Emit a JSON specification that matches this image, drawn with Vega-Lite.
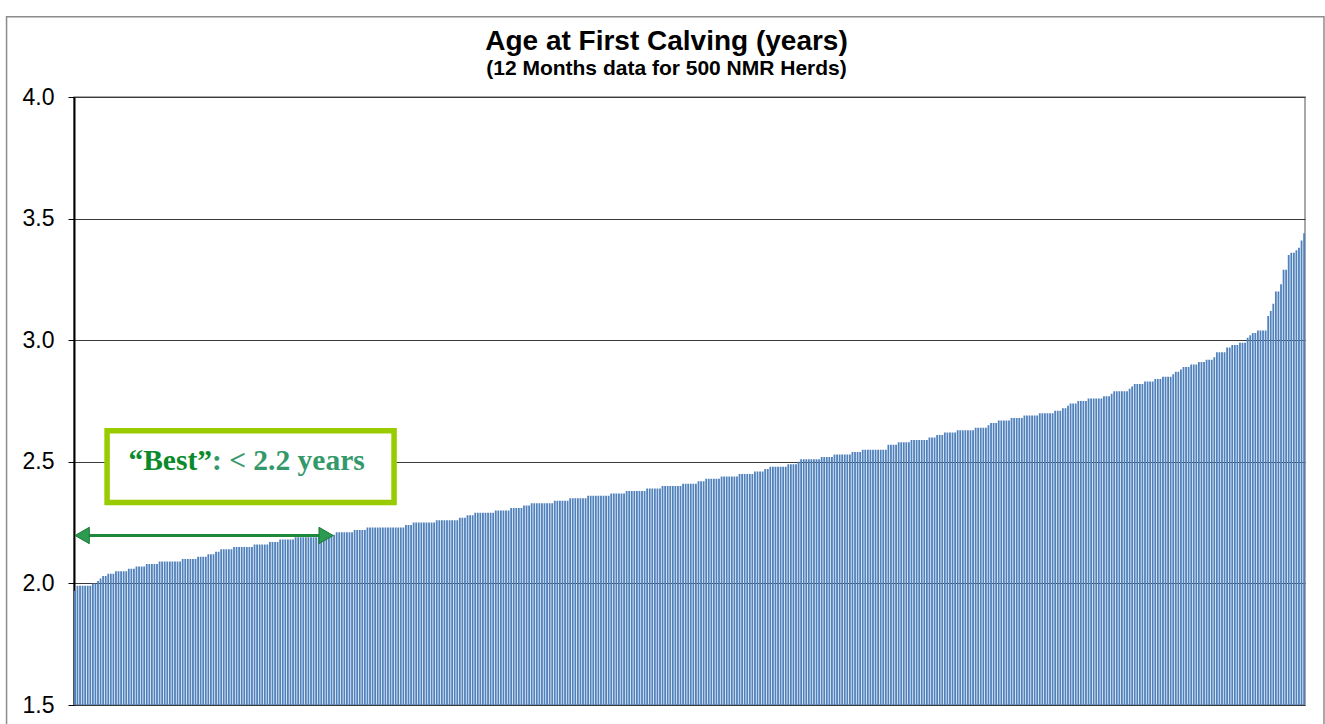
{
"$schema": "https://vega.github.io/schema/vega-lite/v6.json",
"width": 1231, "height": 608,
"autosize": {"type": "none"},
"padding": {"left": 74, "top": 97, "right": 20, "bottom": 19},
"background": "white",
"config": {"view": {"stroke": "#8c8c8c", "strokeWidth": 1.5}, "font": "Liberation Sans"},
"title": {"text": "Age at First Calving (years)", "subtitle": "(12 Months data for 500 NMR Herds)", "anchor": "middle", "dx": -23, "offset": -63, "font": "Liberation Sans", "fontSize": 28, "fontWeight": "bold", "color": "black", "subtitleFont": "Liberation Sans", "subtitleFontSize": 21, "subtitleFontWeight": "bold", "subtitleColor": "black", "subtitlePadding": 2},
"layer": [
{
"data": {"values": [
{"herd":1,"age":1.97},{"herd":2,"age":1.99},{"herd":3,"age":1.99},{"herd":4,"age":1.99},{"herd":5,"age":1.99},{"herd":6,"age":1.99},{"herd":7,"age":1.99},{"herd":8,"age":2.00},{"herd":9,"age":2.00},{"herd":10,"age":2.01},
{"herd":11,"age":2.02},{"herd":12,"age":2.03},{"herd":13,"age":2.03},{"herd":14,"age":2.04},{"herd":15,"age":2.04},{"herd":16,"age":2.04},{"herd":17,"age":2.05},{"herd":18,"age":2.05},{"herd":19,"age":2.05},{"herd":20,"age":2.05},
{"herd":21,"age":2.05},{"herd":22,"age":2.06},{"herd":23,"age":2.06},{"herd":24,"age":2.06},{"herd":25,"age":2.07},{"herd":26,"age":2.07},{"herd":27,"age":2.07},{"herd":28,"age":2.07},{"herd":29,"age":2.08},{"herd":30,"age":2.08},
{"herd":31,"age":2.08},{"herd":32,"age":2.08},{"herd":33,"age":2.08},{"herd":34,"age":2.09},{"herd":35,"age":2.09},{"herd":36,"age":2.09},{"herd":37,"age":2.09},{"herd":38,"age":2.09},{"herd":39,"age":2.09},{"herd":40,"age":2.09},
{"herd":41,"age":2.09},{"herd":42,"age":2.09},{"herd":43,"age":2.10},{"herd":44,"age":2.10},{"herd":45,"age":2.10},{"herd":46,"age":2.10},{"herd":47,"age":2.10},{"herd":48,"age":2.10},{"herd":49,"age":2.11},{"herd":50,"age":2.11},
{"herd":51,"age":2.11},{"herd":52,"age":2.11},{"herd":53,"age":2.12},{"herd":54,"age":2.12},{"herd":55,"age":2.12},{"herd":56,"age":2.13},{"herd":57,"age":2.13},{"herd":58,"age":2.14},{"herd":59,"age":2.14},{"herd":60,"age":2.14},
{"herd":61,"age":2.14},{"herd":62,"age":2.14},{"herd":63,"age":2.15},{"herd":64,"age":2.15},{"herd":65,"age":2.15},{"herd":66,"age":2.15},{"herd":67,"age":2.15},{"herd":68,"age":2.15},{"herd":69,"age":2.15},{"herd":70,"age":2.15},
{"herd":71,"age":2.16},{"herd":72,"age":2.16},{"herd":73,"age":2.16},{"herd":74,"age":2.16},{"herd":75,"age":2.16},{"herd":76,"age":2.16},{"herd":77,"age":2.17},{"herd":78,"age":2.17},{"herd":79,"age":2.17},{"herd":80,"age":2.17},
{"herd":81,"age":2.18},{"herd":82,"age":2.18},{"herd":83,"age":2.18},{"herd":84,"age":2.18},{"herd":85,"age":2.18},{"herd":86,"age":2.18},{"herd":87,"age":2.19},{"herd":88,"age":2.19},{"herd":89,"age":2.19},{"herd":90,"age":2.19},
{"herd":91,"age":2.19},{"herd":92,"age":2.19},{"herd":93,"age":2.19},{"herd":94,"age":2.19},{"herd":95,"age":2.19},{"herd":96,"age":2.19},{"herd":97,"age":2.19},{"herd":98,"age":2.20},{"herd":99,"age":2.20},{"herd":100,"age":2.20},
{"herd":101,"age":2.20},{"herd":102,"age":2.20},{"herd":103,"age":2.21},{"herd":104,"age":2.21},{"herd":105,"age":2.21},{"herd":106,"age":2.21},{"herd":107,"age":2.21},{"herd":108,"age":2.21},{"herd":109,"age":2.21},{"herd":110,"age":2.22},
{"herd":111,"age":2.22},{"herd":112,"age":2.22},{"herd":113,"age":2.22},{"herd":114,"age":2.22},{"herd":115,"age":2.23},{"herd":116,"age":2.23},{"herd":117,"age":2.23},{"herd":118,"age":2.23},{"herd":119,"age":2.23},{"herd":120,"age":2.23},
{"herd":121,"age":2.23},{"herd":122,"age":2.23},{"herd":123,"age":2.23},{"herd":124,"age":2.23},{"herd":125,"age":2.23},{"herd":126,"age":2.23},{"herd":127,"age":2.23},{"herd":128,"age":2.23},{"herd":129,"age":2.23},{"herd":130,"age":2.24},
{"herd":131,"age":2.24},{"herd":132,"age":2.24},{"herd":133,"age":2.25},{"herd":134,"age":2.25},{"herd":135,"age":2.25},{"herd":136,"age":2.25},{"herd":137,"age":2.25},{"herd":138,"age":2.25},{"herd":139,"age":2.25},{"herd":140,"age":2.25},
{"herd":141,"age":2.25},{"herd":142,"age":2.26},{"herd":143,"age":2.26},{"herd":144,"age":2.26},{"herd":145,"age":2.26},{"herd":146,"age":2.26},{"herd":147,"age":2.26},{"herd":148,"age":2.26},{"herd":149,"age":2.26},{"herd":150,"age":2.26},
{"herd":151,"age":2.27},{"herd":152,"age":2.27},{"herd":153,"age":2.27},{"herd":154,"age":2.28},{"herd":155,"age":2.28},{"herd":156,"age":2.28},{"herd":157,"age":2.29},{"herd":158,"age":2.29},{"herd":159,"age":2.29},{"herd":160,"age":2.29},
{"herd":161,"age":2.29},{"herd":162,"age":2.29},{"herd":163,"age":2.29},{"herd":164,"age":2.29},{"herd":165,"age":2.30},{"herd":166,"age":2.30},{"herd":167,"age":2.30},{"herd":168,"age":2.30},{"herd":169,"age":2.30},{"herd":170,"age":2.30},
{"herd":171,"age":2.31},{"herd":172,"age":2.31},{"herd":173,"age":2.31},{"herd":174,"age":2.31},{"herd":175,"age":2.31},{"herd":176,"age":2.32},{"herd":177,"age":2.32},{"herd":178,"age":2.32},{"herd":179,"age":2.33},{"herd":180,"age":2.33},
{"herd":181,"age":2.33},{"herd":182,"age":2.33},{"herd":183,"age":2.33},{"herd":184,"age":2.33},{"herd":185,"age":2.33},{"herd":186,"age":2.33},{"herd":187,"age":2.33},{"herd":188,"age":2.34},{"herd":189,"age":2.34},{"herd":190,"age":2.34},
{"herd":191,"age":2.34},{"herd":192,"age":2.34},{"herd":193,"age":2.34},{"herd":194,"age":2.35},{"herd":195,"age":2.35},{"herd":196,"age":2.35},{"herd":197,"age":2.35},{"herd":198,"age":2.35},{"herd":199,"age":2.35},{"herd":200,"age":2.35},
{"herd":201,"age":2.36},{"herd":202,"age":2.36},{"herd":203,"age":2.36},{"herd":204,"age":2.36},{"herd":205,"age":2.36},{"herd":206,"age":2.36},{"herd":207,"age":2.36},{"herd":208,"age":2.36},{"herd":209,"age":2.36},{"herd":210,"age":2.37},
{"herd":211,"age":2.37},{"herd":212,"age":2.37},{"herd":213,"age":2.37},{"herd":214,"age":2.37},{"herd":215,"age":2.37},{"herd":216,"age":2.38},{"herd":217,"age":2.38},{"herd":218,"age":2.38},{"herd":219,"age":2.38},{"herd":220,"age":2.38},
{"herd":221,"age":2.38},{"herd":222,"age":2.38},{"herd":223,"age":2.38},{"herd":224,"age":2.39},{"herd":225,"age":2.39},{"herd":226,"age":2.39},{"herd":227,"age":2.39},{"herd":228,"age":2.39},{"herd":229,"age":2.39},{"herd":230,"age":2.40},
{"herd":231,"age":2.40},{"herd":232,"age":2.40},{"herd":233,"age":2.40},{"herd":234,"age":2.40},{"herd":235,"age":2.40},{"herd":236,"age":2.40},{"herd":237,"age":2.40},{"herd":238,"age":2.41},{"herd":239,"age":2.41},{"herd":240,"age":2.41},
{"herd":241,"age":2.41},{"herd":242,"age":2.41},{"herd":243,"age":2.41},{"herd":244,"age":2.42},{"herd":245,"age":2.42},{"herd":246,"age":2.42},{"herd":247,"age":2.43},{"herd":248,"age":2.43},{"herd":249,"age":2.43},{"herd":250,"age":2.43},
{"herd":251,"age":2.43},{"herd":252,"age":2.43},{"herd":253,"age":2.44},{"herd":254,"age":2.44},{"herd":255,"age":2.44},{"herd":256,"age":2.44},{"herd":257,"age":2.44},{"herd":258,"age":2.44},{"herd":259,"age":2.44},{"herd":260,"age":2.45},
{"herd":261,"age":2.45},{"herd":262,"age":2.45},{"herd":263,"age":2.45},{"herd":264,"age":2.45},{"herd":265,"age":2.45},{"herd":266,"age":2.46},{"herd":267,"age":2.46},{"herd":268,"age":2.46},{"herd":269,"age":2.46},{"herd":270,"age":2.47},
{"herd":271,"age":2.47},{"herd":272,"age":2.48},{"herd":273,"age":2.48},{"herd":274,"age":2.48},{"herd":275,"age":2.48},{"herd":276,"age":2.48},{"herd":277,"age":2.48},{"herd":278,"age":2.48},{"herd":279,"age":2.49},{"herd":280,"age":2.49},
{"herd":281,"age":2.49},{"herd":282,"age":2.49},{"herd":283,"age":2.50},{"herd":284,"age":2.51},{"herd":285,"age":2.51},{"herd":286,"age":2.51},{"herd":287,"age":2.51},{"herd":288,"age":2.51},{"herd":289,"age":2.51},{"herd":290,"age":2.51},
{"herd":291,"age":2.51},{"herd":292,"age":2.52},{"herd":293,"age":2.52},{"herd":294,"age":2.52},{"herd":295,"age":2.52},{"herd":296,"age":2.52},{"herd":297,"age":2.53},{"herd":298,"age":2.53},{"herd":299,"age":2.53},{"herd":300,"age":2.53},
{"herd":301,"age":2.53},{"herd":302,"age":2.53},{"herd":303,"age":2.53},{"herd":304,"age":2.54},{"herd":305,"age":2.54},{"herd":306,"age":2.54},{"herd":307,"age":2.54},{"herd":308,"age":2.55},{"herd":309,"age":2.55},{"herd":310,"age":2.55},
{"herd":311,"age":2.55},{"herd":312,"age":2.55},{"herd":313,"age":2.55},{"herd":314,"age":2.55},{"herd":315,"age":2.55},{"herd":316,"age":2.55},{"herd":317,"age":2.55},{"herd":318,"age":2.57},{"herd":319,"age":2.57},{"herd":320,"age":2.57},
{"herd":321,"age":2.57},{"herd":322,"age":2.58},{"herd":323,"age":2.58},{"herd":324,"age":2.58},{"herd":325,"age":2.58},{"herd":326,"age":2.58},{"herd":327,"age":2.59},{"herd":328,"age":2.59},{"herd":329,"age":2.59},{"herd":330,"age":2.59},
{"herd":331,"age":2.59},{"herd":332,"age":2.59},{"herd":333,"age":2.59},{"herd":334,"age":2.60},{"herd":335,"age":2.60},{"herd":336,"age":2.60},{"herd":337,"age":2.61},{"herd":338,"age":2.61},{"herd":339,"age":2.61},{"herd":340,"age":2.62},
{"herd":341,"age":2.62},{"herd":342,"age":2.62},{"herd":343,"age":2.62},{"herd":344,"age":2.62},{"herd":345,"age":2.63},{"herd":346,"age":2.63},{"herd":347,"age":2.63},{"herd":348,"age":2.63},{"herd":349,"age":2.63},{"herd":350,"age":2.63},
{"herd":351,"age":2.63},{"herd":352,"age":2.64},{"herd":353,"age":2.64},{"herd":354,"age":2.64},{"herd":355,"age":2.64},{"herd":356,"age":2.64},{"herd":357,"age":2.65},{"herd":358,"age":2.66},{"herd":359,"age":2.66},{"herd":360,"age":2.66},
{"herd":361,"age":2.67},{"herd":362,"age":2.67},{"herd":363,"age":2.67},{"herd":364,"age":2.67},{"herd":365,"age":2.67},{"herd":366,"age":2.68},{"herd":367,"age":2.68},{"herd":368,"age":2.68},{"herd":369,"age":2.68},{"herd":370,"age":2.68},
{"herd":371,"age":2.69},{"herd":372,"age":2.69},{"herd":373,"age":2.69},{"herd":374,"age":2.69},{"herd":375,"age":2.69},{"herd":376,"age":2.69},{"herd":377,"age":2.70},{"herd":378,"age":2.70},{"herd":379,"age":2.70},{"herd":380,"age":2.70},
{"herd":381,"age":2.70},{"herd":382,"age":2.70},{"herd":383,"age":2.71},{"herd":384,"age":2.71},{"herd":385,"age":2.71},{"herd":386,"age":2.72},{"herd":387,"age":2.72},{"herd":388,"age":2.73},{"herd":389,"age":2.74},{"herd":390,"age":2.74},
{"herd":391,"age":2.74},{"herd":392,"age":2.75},{"herd":393,"age":2.75},{"herd":394,"age":2.75},{"herd":395,"age":2.75},{"herd":396,"age":2.76},{"herd":397,"age":2.76},{"herd":398,"age":2.76},{"herd":399,"age":2.76},{"herd":400,"age":2.76},
{"herd":401,"age":2.76},{"herd":402,"age":2.77},{"herd":403,"age":2.77},{"herd":404,"age":2.77},{"herd":405,"age":2.78},{"herd":406,"age":2.79},{"herd":407,"age":2.79},{"herd":408,"age":2.79},{"herd":409,"age":2.79},{"herd":410,"age":2.79},
{"herd":411,"age":2.79},{"herd":412,"age":2.80},{"herd":413,"age":2.81},{"herd":414,"age":2.82},{"herd":415,"age":2.82},{"herd":416,"age":2.82},{"herd":417,"age":2.82},{"herd":418,"age":2.83},{"herd":419,"age":2.83},{"herd":420,"age":2.83},
{"herd":421,"age":2.83},{"herd":422,"age":2.84},{"herd":423,"age":2.84},{"herd":424,"age":2.84},{"herd":425,"age":2.85},{"herd":426,"age":2.85},{"herd":427,"age":2.85},{"herd":428,"age":2.85},{"herd":429,"age":2.86},{"herd":430,"age":2.87},
{"herd":431,"age":2.87},{"herd":432,"age":2.88},{"herd":433,"age":2.89},{"herd":434,"age":2.89},{"herd":435,"age":2.89},{"herd":436,"age":2.90},{"herd":437,"age":2.90},{"herd":438,"age":2.90},{"herd":439,"age":2.91},{"herd":440,"age":2.91},
{"herd":441,"age":2.91},{"herd":442,"age":2.92},{"herd":443,"age":2.92},{"herd":444,"age":2.92},{"herd":445,"age":2.93},{"herd":446,"age":2.95},{"herd":447,"age":2.95},{"herd":448,"age":2.95},{"herd":449,"age":2.95},{"herd":450,"age":2.97},
{"herd":451,"age":2.97},{"herd":452,"age":2.98},{"herd":453,"age":2.98},{"herd":454,"age":2.98},{"herd":455,"age":2.99},{"herd":456,"age":2.99},{"herd":457,"age":2.99},{"herd":458,"age":3.01},{"herd":459,"age":3.02},{"herd":460,"age":3.03},
{"herd":461,"age":3.03},{"herd":462,"age":3.04},{"herd":463,"age":3.04},{"herd":464,"age":3.04},{"herd":465,"age":3.04},{"herd":466,"age":3.10},{"herd":467,"age":3.12},{"herd":468,"age":3.15},{"herd":469,"age":3.20},{"herd":470,"age":3.20},
{"herd":471,"age":3.23},{"herd":472,"age":3.29},{"herd":473,"age":3.29},{"herd":474,"age":3.35},{"herd":475,"age":3.36},{"herd":476,"age":3.36},{"herd":477,"age":3.37},{"herd":478,"age":3.38},{"herd":479,"age":3.41},{"herd":480,"age":3.44}
]},
"mark": {"type": "bar", "color": "#4F81BD", "clip": true},
"encoding": {
"x": {"field": "herd", "type": "ordinal", "scale": {"paddingInner": 0.3, "paddingOuter": 0}, "axis": null},
"y": {"field": "age", "type": "quantitative", "scale": {"domain": [1.5, 4], "zero": false, "nice": false}, "axis": {"values": [1.5, 2, 2.5, 3, 3.5, 4], "format": ".1f", "title": null, "grid": true, "gridColor": "#3a3a3a", "gridWidth": 1, "domainColor": "black", "domainWidth": 2, "tickColor": "black", "tickSize": 6, "labelFontSize": 23, "labelColor": "black", "labelPadding": 14, "labelFont": "Liberation Sans"}}
}
},
{
"data": {"values": [{}]},
"layer": [
{"mark": {"type": "rect", "fill": "transparent", "stroke": "#8c8c8c", "strokeWidth": 1.5, "clip": false},
 "encoding": {"x": {"datum": -26.3, "type": "quantitative", "scale": {"domain": [0, 480]}, "axis": null}, "x2": {"datum": 487.4}, "y": {"datum": 4.33, "type": "quantitative"}, "y2": {"datum": 1.2}}},
{"mark": {"type": "rect", "fill": "white", "stroke": "#99CC00", "strokeWidth": 5.5, "clip": false},
 "encoding": {"x": {"datum": 12.9, "type": "quantitative", "scale": {"domain": [0, 480]}, "axis": null}, "x2": {"datum": 124.8}, "y": {"datum": 2.628, "type": "quantitative"}, "y2": {"datum": 2.333}}},
{"mark": {"type": "rule", "stroke": "#1c8a3a", "strokeWidth": 3, "clip": false},
 "encoding": {"x": {"datum": 1.5, "type": "quantitative", "scale": {"domain": [0, 480]}, "axis": null}, "x2": {"datum": 99}, "y": {"datum": 2.197, "type": "quantitative"}}},
{"mark": {"type": "point", "shape": "triangle-left", "filled": true, "fill": "#2c9a50", "stroke": "#1c7a35", "strokeWidth": 1, "size": 270, "opacity": 1, "clip": false},
 "encoding": {"x": {"datum": 3.2, "type": "quantitative", "scale": {"domain": [0, 480]}, "axis": null}, "y": {"datum": 2.197, "type": "quantitative"}}},
{"mark": {"type": "point", "shape": "triangle-right", "filled": true, "fill": "#2c9a50", "stroke": "#1c7a35", "strokeWidth": 1, "size": 270, "opacity": 1, "clip": false},
 "encoding": {"x": {"datum": 98.3, "type": "quantitative", "scale": {"domain": [0, 480]}, "axis": null}, "y": {"datum": 2.197, "type": "quantitative"}}},
{"mark": {"type": "text", "text": "\u201cBest\u201d", "align": "right", "baseline": "alphabetic", "font": "Liberation Serif", "fontWeight": "bold", "fontSize": 29.5, "color": "#0a8a2a", "clip": false},
 "encoding": {"x": {"datum": 53.8, "type": "quantitative", "scale": {"domain": [0, 480]}, "axis": null}, "y": {"datum": 2.467, "type": "quantitative"}}},
{"mark": {"type": "text", "text": ": < 2.2 years", "align": "left", "baseline": "alphabetic", "font": "Liberation Serif", "fontWeight": "bold", "fontSize": 29.5, "color": "#33996b", "clip": false},
 "encoding": {"x": {"datum": 53.8, "type": "quantitative", "scale": {"domain": [0, 480]}, "axis": null}, "y": {"datum": 2.467, "type": "quantitative"}}}
]
}
],
"resolve": {"scale": {"x": "independent"}}
}
